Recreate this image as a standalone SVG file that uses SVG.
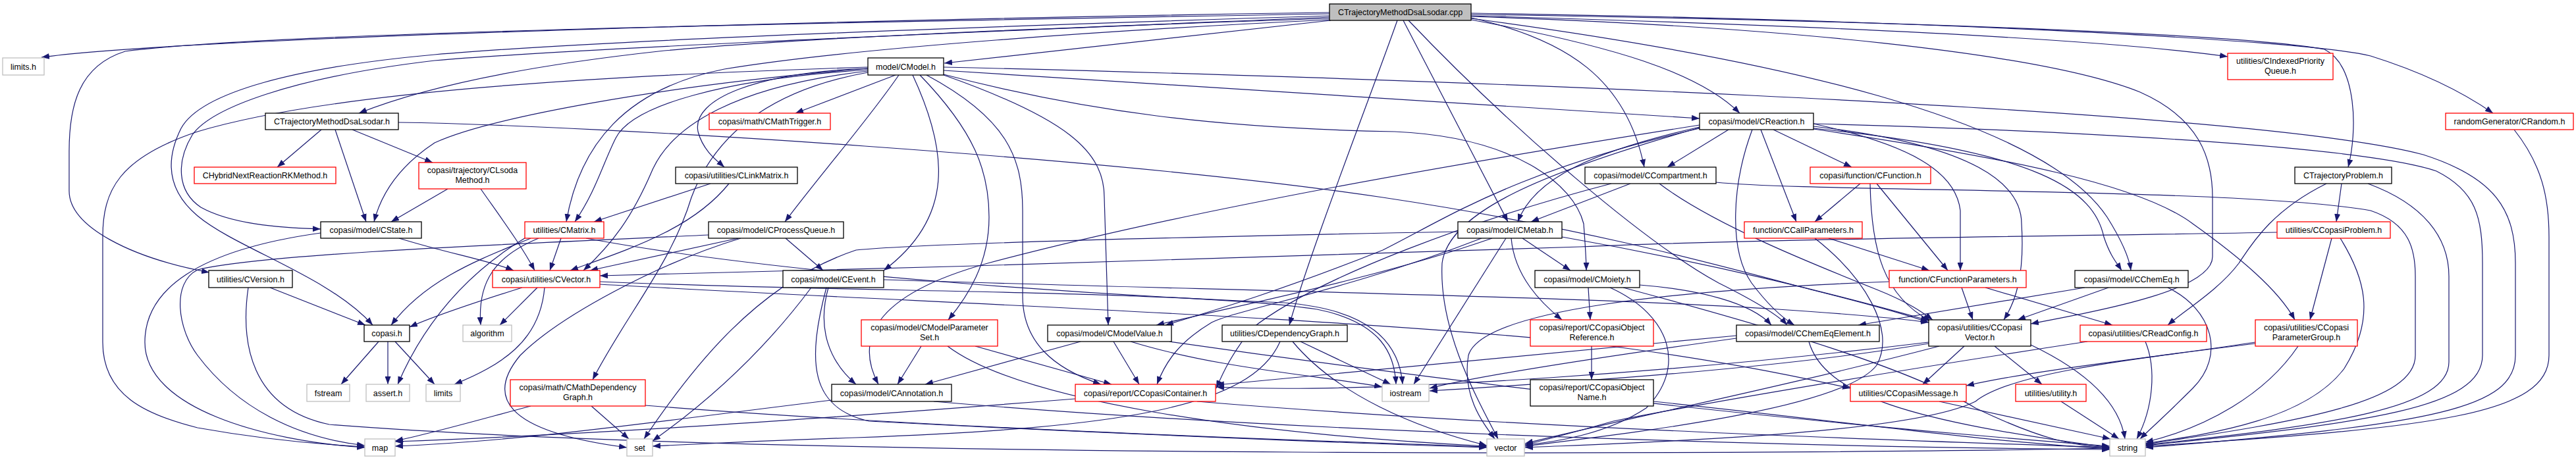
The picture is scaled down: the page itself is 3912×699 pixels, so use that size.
<svg xmlns="http://www.w3.org/2000/svg" width="3912" height="699" viewBox="0 0 3912 699">
<style>
rect{fill:#fff;stroke:#000;stroke-width:1.3}
.r rect{stroke:#f00}
.g rect{stroke:#bfbfbf}
.t rect{fill:#bfbfbf}
text{font-family:"Liberation Sans",Arial,sans-serif;font-size:12.5px;text-anchor:middle;fill:#000}
#connectors path{fill:none;stroke:#191970;stroke-width:1.2;marker-end:url(#ah)}
</style>
<defs><marker id="ah" viewBox="0 0 10 10" refX="10" refY="5" markerWidth="12" markerHeight="9" markerUnits="userSpaceOnUse" orient="auto" preserveAspectRatio="none"><path d="M0,0 L10,5 L0,10 z" fill="#191970"/></marker></defs>
<rect x="0" y="0" width="3912" height="699" style="fill:#fff;stroke:none"/>
<g id="connectors">
<path d="M2019,19 C1400,28 300,55 63,87"/>
<path d="M2019,21 C1200,35 400,50 190,78 C120,100 105,160 105,230 L105,290 C105,345 200,392 318,414"/>
<path d="M2019,24 C1500,40 900,62 660,83 C450,102 305,140 275,195 C250,245 255,290 300,328 C360,378 500,420 566,494"/>
<path d="M2019,26 C1500,48 900,72 660,92 C440,118 320,165 292,205 C268,245 268,290 305,315 C350,340 420,346 487,348"/>
<path d="M2019,28 C1600,42 1200,58 1000,78 C800,100 650,130 545,172"/>
<path d="M2019,30 C1700,45 1300,72 1100,105 C950,135 880,220 860,337"/>
<path d="M2021,31 L1434,96"/>
<path d="M2122,31 C2080,150 1990,380 1958,494"/>
<path d="M2131,31 L2290,337"/>
<path d="M2139,31 C2300,200 2500,370 2610,430 C2660,455 2700,478 2714,494"/>
<path d="M2234,27 C2380,60 2470,120 2497,254"/>
<path d="M2234,28 C2700,90 3100,180 3200,330 C3225,370 3234,395 3236,411"/>
<path d="M2234,30 C2450,70 2580,110 2642,172"/>
<path d="M2234,25 C2700,40 3100,80 3250,140 C3340,180 3360,240 3360,300 L3360,390 C3360,440 3200,470 3084,492"/>
<path d="M2234,22 C2800,30 3400,50 3530,75 C3580,100 3580,200 3566,254"/>
<path d="M2234,20 C2900,30 3500,60 3600,85 C3680,110 3740,140 3786,172"/>
<path d="M2234,24 C2800,40 3200,60 3383,86"/>
<path d="M1360,114 L1208,172"/>
<path d="M1433,107 L2581,180"/>
<path d="M1433,102 C2000,115 3400,160 3680,235 C3790,270 3820,320 3820,400 L3820,540 C3820,620 3700,645 3258,680"/>
<path d="M1433,113 C1650,170 1850,195 2118,200 C2300,208 2390,280 2405,340 C2408,380 2409,395 2409,411"/>
<path d="M1318,104 C1150,110 1050,150 1060,200 C1068,230 1090,245 1100,254"/>
<path d="M1318,106 C1100,120 960,160 935,210 C915,250 905,290 873,337"/>
<path d="M1318,108 C1120,130 1020,190 990,260 C960,330 930,370 886,411"/>
<path d="M1318,104 C1000,130 740,180 660,217 C610,250 580,290 568,337"/>
<path d="M1318,102 C900,115 500,140 300,200 C180,240 156,290 156,360 L156,520 C156,600 220,630 300,650 C400,668 480,675 554,679"/>
<path d="M1365,114 C1320,180 1250,260 1192,337"/>
<path d="M1386,114 C1440,230 1450,330 1342,411"/>
<path d="M1397,114 C1480,200 1502,260 1502,330 C1502,400 1470,450 1440,486"/>
<path d="M1407,114 C1530,180 1553,240 1553,320 L1553,450 C1553,520 1600,560 1672,584"/>
<path d="M1433,114 C1620,180 1677,230 1677,300 L1683,494"/>
<path d="M1318,110 C1150,140 1080,220 1050,300 C1020,400 950,480 900,577"/>
<path d="M488,197 L421,254"/>
<path d="M509,197 L556,337"/>
<path d="M535,197 L657,247"/>
<path d="M605,186 C900,190 1700,240 2100,300 C2400,345 2600,400 2750,440 C2850,465 2900,480 2929,490"/>
<path d="M680,287 L594,337"/>
<path d="M730,287 C760,330 790,370 812,411"/>
<path d="M1079,279 L902,337"/>
<path d="M1107,279 C1050,350 950,380 866,411"/>
<path d="M1121,362 L896,411"/>
<path d="M1193,362 L1250,411"/>
<path d="M1076,357 C800,370 400,385 300,410 C260,430 270,500 300,540 C360,620 450,665 554,677"/>
<path d="M1125,362 C1000,400 850,480 790,540 C740,600 760,655 952,680"/>
<path d="M606,362 C680,385 740,395 780,411"/>
<path d="M487,354 C300,380 220,440 220,520 C220,620 400,670 554,680"/>
<path d="M410,437 L555,494"/>
<path d="M377,437 C365,520 380,620 500,645 C1200,700 2800,690 3204,681"/>
<path d="M575,519 L518,584"/>
<path d="M589,519 L589,584"/>
<path d="M600,519 L660,584"/>
<path d="M852,362 L835,411"/>
<path d="M806,362 C740,390 650,420 594,494"/>
<path d="M800,360 C700,420 640,500 604,584"/>
<path d="M818,362 C750,390 725,430 730,494"/>
<path d="M890,362 C1200,420 1700,450 1950,460 C2080,470 2125,520 2130,584"/>
<path d="M793,437 C720,460 660,480 622,497"/>
<path d="M816,437 L759,494"/>
<path d="M827,437 C820,520 760,555 690,584"/>
<path d="M911,428 C1300,445 1800,440 2000,470 C2100,490 2118,540 2120,584"/>
<path d="M911,432 C1400,460 2000,480 2400,520 C2600,545 2720,570 2810,590"/>
<path d="M1258,437 C1240,500 1260,550 1300,584"/>
<path d="M1232,437 C1170,520 1090,600 991,670"/>
<path d="M1255,437 C1225,550 1230,620 1320,640 C1700,660 2100,675 2258,680"/>
<path d="M1342,425 C1800,440 2400,450 2700,470 C2850,480 2900,486 2929,490"/>
<path d="M2412,437 L2415,486"/>
<path d="M2445,437 C2540,480 2560,560 2500,620 C2440,660 2360,672 2316,676"/>
<path d="M2490,433 C2580,440 2660,460 2690,494"/>
<path d="M2465,437 C2700,500 2900,560 3000,620 C3100,668 3150,678 3204,680"/>
<path d="M2312,362 L2385,411"/>
<path d="M2295,362 C2300,420 2340,460 2372,486"/>
<path d="M2287,362 L2147,584"/>
<path d="M2266,362 C2100,420 1900,460 1756,494"/>
<path d="M2250,362 C2050,440 1880,470 1840,490 C1790,520 1770,550 1757,584"/>
<path d="M2214,352 C1800,360 1400,370 1300,380 C1150,430 1050,560 978,667"/>
<path d="M2372,360 C2600,400 2800,450 2929,487"/>
<path d="M3166,437 L2822,494"/>
<path d="M3202,437 L3064,486"/>
<path d="M3292,437 C3360,470 3380,540 3330,590 C3290,630 3262,655 3250,667"/>
<path d="M2979,437 L2996,486"/>
<path d="M3015,437 L3208,494"/>
<path d="M2869,428 C2550,440 2250,470 2230,540 C2220,600 2250,640 2270,667"/>
<path d="M2777,362 L2930,411"/>
<path d="M2756,362 C2830,420 2880,500 2850,555 C2800,620 2500,655 2316,678"/>
<path d="M2825,279 L2756,337"/>
<path d="M2850,279 L2958,411"/>
<path d="M2840,279 C2842,380 2860,450 2932,488"/>
<path d="M2625,197 L2532,254"/>
<path d="M2581,193 C2420,230 2330,270 2305,337"/>
<path d="M2581,195 C2300,260 2200,330 2100,380 C1950,440 1850,470 1770,494"/>
<path d="M2581,190 C2200,250 1800,320 1500,400 C1320,450 1300,520 1334,584"/>
<path d="M2661,197 C2630,280 2625,380 2660,430 C2690,470 2710,485 2725,494"/>
<path d="M2674,197 L2728,337"/>
<path d="M2693,197 L2812,254"/>
<path d="M2754,188 C2900,220 2970,260 2977,320 L2977,411"/>
<path d="M2754,192 C3000,220 3070,280 3070,340 C3075,420 3060,460 3043,486"/>
<path d="M2754,195 C3100,230 3180,290 3195,360 C3205,390 3215,400 3222,411"/>
<path d="M2754,196 C3050,240 3250,280 3330,340 C3400,390 3460,440 3485,486"/>
<path d="M2754,188 C3200,200 3600,225 3700,260 C3760,290 3770,330 3770,400 L3770,540 C3770,620 3600,642 3258,677"/>
<path d="M2581,194 C2350,260 2200,320 2190,400 C2185,500 2240,600 2275,667"/>
<path d="M2476,279 L2325,337"/>
<path d="M2606,277 C2750,292 3400,285 3600,320 C3660,340 3668,380 3668,420 L3668,540 C3668,610 3500,640 3258,675"/>
<path d="M2520,279 C2600,340 2750,400 2850,440 C2900,460 2920,475 2935,486"/>
<path d="M2447,279 C2250,330 2000,420 1900,500 C1870,540 1860,560 1847,590"/>
<path d="M3556,279 L3548,337"/>
<path d="M3533,279 C3450,320 3420,370 3400,400 C3370,440 3320,470 3292,494"/>
<path d="M3596,279 C3680,310 3719,360 3719,420 L3719,550 C3719,620 3550,645 3258,676"/>
<path d="M3818,197 C3860,250 3871,300 3871,360 L3871,540 C3871,630 3700,650 3258,678"/>
<path d="M3541,362 L3508,486"/>
<path d="M3554,362 C3590,420 3610,480 3560,560 C3500,640 3350,660 3258,674"/>
<path d="M3458,353 C3200,358 2700,362 2400,375 C2000,388 1400,408 911,419"/>
<path d="M3490,526 C3440,600 3350,650 3258,672"/>
<path d="M3425,520 C3300,540 3100,560 2986,586"/>
<path d="M3425,522 C3200,550 3050,570 3000,610 C2900,660 2500,672 2316,680"/>
<path d="M3258,519 C3275,560 3270,620 3245,667"/>
<path d="M3170,519 C2900,560 2600,610 2450,640 C2380,660 2340,670 2316,676"/>
<path d="M2983,526 L2920,584"/>
<path d="M3029,526 L3101,584"/>
<path d="M3084,524 C3180,570 3220,620 3227,667"/>
<path d="M2929,520 C2600,560 2100,600 1847,588"/>
<path d="M2929,522 C2700,560 2400,580 2171,594"/>
<path d="M2945,526 C2700,590 2450,640 2316,674"/>
<path d="M2747,519 C2770,600 2900,640 3204,680"/>
<path d="M2637,514 C2450,540 2250,570 2171,590"/>
<path d="M2637,510 C2300,540 2000,570 1847,585"/>
<path d="M2417,526 L2417,577"/>
<path d="M2511,610 C2800,640 3000,670 3204,682"/>
<path d="M2945,610 L3205,667"/>
<path d="M3130,610 L3218,667"/>
<path d="M1975,519 L2112,584"/>
<path d="M1963,519 C2030,600 2150,650 2258,677"/>
<path d="M1944,519 C1900,620 1700,650 1300,665 C1150,670 1050,675 991,678"/>
<path d="M1641,519 L1405,584"/>
<path d="M1691,519 L1730,584"/>
<path d="M1717,519 C1850,560 2000,570 2099,588"/>
<path d="M1776,519 C2200,580 2700,640 3204,678"/>
<path d="M1399,526 L1363,584"/>
<path d="M1481,526 L1688,584"/>
<path d="M1439,526 C1550,610 1900,660 2258,678"/>
<path d="M1418,610 C2000,660 2800,680 3204,683"/>
<path d="M1263,608 C1000,640 800,670 600,678"/>
<path d="M1633,606 C1200,640 900,660 600,671"/>
<path d="M1818,610 C2300,650 2900,670 3204,680"/>
<path d="M898,617 L955,667"/>
<path d="M806,617 C720,640 650,660 600,670"/>
<path d="M980,616 C1400,650 2000,670 2258,679"/>
</g>
<g id="n-top" class="t"><rect x="2019" y="6" width="215" height="25"/><text x="2126.5" y="23">CTrajectoryMethodDsaLsodar.cpp</text></g>
<g id="n-limits-h" class="g"><rect x="4" y="88" width="63" height="26"/><text x="35.5" y="105.5">limits.h</text></g>
<g id="n-cmodel"><rect x="1318" y="88" width="115" height="26"/><text x="1375.5" y="105.5">model/CModel.h</text></g>
<g id="n-cipq" class="r"><rect x="3383" y="81" width="160" height="40"/><text x="3463" y="97">utilities/CIndexedPriority</text><text x="3463" y="112">Queue.h</text></g>
<g id="n-dsah"><rect x="403" y="172" width="202" height="25"/><text x="504" y="189">CTrajectoryMethodDsaLsodar.h</text></g>
<g id="n-cmathtrigger" class="r"><rect x="1077" y="172" width="184" height="25"/><text x="1169" y="189">copasi/math/CMathTrigger.h</text></g>
<g id="n-creaction"><rect x="2581" y="172" width="173" height="25"/><text x="2667.5" y="189">copasi/model/CReaction.h</text></g>
<g id="n-crandom" class="r"><rect x="3714" y="172" width="194" height="25"/><text x="3811" y="189">randomGenerator/CRandom.h</text></g>
<g id="n-chybrid" class="r"><rect x="295" y="254" width="215" height="25"/><text x="402.5" y="271">CHybridNextReactionRKMethod.h</text></g>
<g id="n-clsoda" class="r"><rect x="636" y="247" width="163" height="40"/><text x="717.5" y="263">copasi/trajectory/CLsoda</text><text x="717.5" y="278">Method.h</text></g>
<g id="n-clinkmatrix"><rect x="1026" y="254" width="185" height="25"/><text x="1118.5" y="271">copasi/utilities/CLinkMatrix.h</text></g>
<g id="n-ccompartment"><rect x="2407" y="254" width="199" height="25"/><text x="2506.5" y="271">copasi/model/CCompartment.h</text></g>
<g id="n-cfunction" class="r"><rect x="2749" y="254" width="183" height="25"/><text x="2840.5" y="271">copasi/function/CFunction.h</text></g>
<g id="n-ctrajproblem"><rect x="3485" y="254" width="147" height="25"/><text x="3558.5" y="271">CTrajectoryProblem.h</text></g>
<g id="n-cstate"><rect x="487" y="337" width="153" height="25"/><text x="563.5" y="354">copasi/model/CState.h</text></g>
<g id="n-cmatrix" class="r"><rect x="797" y="337" width="120" height="25"/><text x="857" y="354">utilities/CMatrix.h</text></g>
<g id="n-cprocessqueue"><rect x="1076" y="337" width="205" height="25"/><text x="1178.5" y="354">copasi/model/CProcessQueue.h</text></g>
<g id="n-cmetab"><rect x="2214" y="337" width="158" height="25"/><text x="2293" y="354">copasi/model/CMetab.h</text></g>
<g id="n-ccallparameters" class="r"><rect x="2649" y="337" width="179" height="25"/><text x="2738.5" y="354">function/CCallParameters.h</text></g>
<g id="n-ccopasiproblem" class="r"><rect x="3458" y="337" width="172" height="25"/><text x="3544" y="354">utilities/CCopasiProblem.h</text></g>
<g id="n-cversion"><rect x="317" y="411" width="127" height="26"/><text x="380.5" y="428.5">utilities/CVersion.h</text></g>
<g id="n-cvector" class="r"><rect x="748" y="411" width="163" height="26"/><text x="829.5" y="428.5">copasi/utilities/CVector.h</text></g>
<g id="n-cevent"><rect x="1189" y="411" width="153" height="26"/><text x="1265.5" y="428.5">copasi/model/CEvent.h</text></g>
<g id="n-cmoiety"><rect x="2331" y="411" width="159" height="26"/><text x="2410.5" y="428.5">copasi/model/CMoiety.h</text></g>
<g id="n-cfunctionparameters" class="r"><rect x="2869" y="411" width="208" height="26"/><text x="2973" y="428.5">function/CFunctionParameters.h</text></g>
<g id="n-cchemeq"><rect x="3151" y="411" width="172" height="26"/><text x="3237" y="428.5">copasi/model/CChemEq.h</text></g>
<g id="n-copasi-h"><rect x="553" y="494" width="69" height="25"/><text x="587.5" y="511">copasi.h</text></g>
<g id="n-algorithm" class="g"><rect x="703" y="494" width="74" height="25"/><text x="740" y="511">algorithm</text></g>
<g id="n-cmodelparameterset" class="r"><rect x="1308" y="486" width="207" height="40"/><text x="1411.5" y="502">copasi/model/CModelParameter</text><text x="1411.5" y="517">Set.h</text></g>
<g id="n-cmodelvalue"><rect x="1591" y="494" width="188" height="25"/><text x="1685" y="511">copasi/model/CModelValue.h</text></g>
<g id="n-cdependencygraph"><rect x="1856" y="494" width="190" height="25"/><text x="1951" y="511">utilities/CDependencyGraph.h</text></g>
<g id="n-ccopasiobjectreference" class="r"><rect x="2324" y="486" width="187" height="40"/><text x="2417.5" y="502">copasi/report/CCopasiObject</text><text x="2417.5" y="517">Reference.h</text></g>
<g id="n-cchemeqelement"><rect x="2637" y="494" width="217" height="25"/><text x="2745.5" y="511">copasi/model/CChemEqElement.h</text></g>
<g id="n-ccopasivector"><rect x="2929" y="486" width="155" height="40"/><text x="3006.5" y="502">copasi/utilities/CCopasi</text><text x="3006.5" y="517">Vector.h</text></g>
<g id="n-creadconfig" class="r"><rect x="3159" y="494" width="192" height="25"/><text x="3255" y="511">copasi/utilities/CReadConfig.h</text></g>
<g id="n-ccopasiparametergroup" class="r"><rect x="3425" y="486" width="155" height="40"/><text x="3502.5" y="502">copasi/utilities/CCopasi</text><text x="3502.5" y="517">ParameterGroup.h</text></g>
<g id="n-fstream" class="g"><rect x="466" y="584" width="65" height="26"/><text x="498.5" y="601.5">fstream</text></g>
<g id="n-assert-h" class="g"><rect x="556" y="584" width="66" height="26"/><text x="589" y="601.5">assert.h</text></g>
<g id="n-limits" class="g"><rect x="647" y="584" width="52" height="26"/><text x="673" y="601.5">limits</text></g>
<g id="n-cmathdependencygraph" class="r"><rect x="775" y="577" width="205" height="40"/><text x="877.5" y="593">copasi/math/CMathDependency</text><text x="877.5" y="608">Graph.h</text></g>
<g id="n-cannotation"><rect x="1263" y="584" width="182" height="26"/><text x="1354" y="601.5">copasi/model/CAnnotation.h</text></g>
<g id="n-ccopasicontainer" class="r"><rect x="1633" y="584" width="213" height="26"/><text x="1739.5" y="601.5">copasi/report/CCopasiContainer.h</text></g>
<g id="n-iostream" class="g"><rect x="2099" y="584" width="71" height="26"/><text x="2134.5" y="601.5">iostream</text></g>
<g id="n-ccopasiobjectname"><rect x="2324" y="577" width="187" height="40"/><text x="2417.5" y="593">copasi/report/CCopasiObject</text><text x="2417.5" y="608">Name.h</text></g>
<g id="n-ccopasimessage" class="r"><rect x="2810" y="584" width="176" height="26"/><text x="2898" y="601.5">utilities/CCopasiMessage.h</text></g>
<g id="n-utility" class="r"><rect x="3061" y="584" width="107" height="26"/><text x="3114.5" y="601.5">utilities/utility.h</text></g>
<g id="n-map" class="g"><rect x="554" y="667" width="46" height="26"/><text x="577" y="684.5">map</text></g>
<g id="n-set" class="g"><rect x="952" y="667" width="39" height="26"/><text x="971.5" y="684.5">set</text></g>
<g id="n-vector" class="g"><rect x="2258" y="667" width="57" height="26"/><text x="2286.5" y="684.5">vector</text></g>
<g id="n-string" class="g"><rect x="3204" y="667" width="54" height="26"/><text x="3231" y="684.5">string</text></g>
</svg>
